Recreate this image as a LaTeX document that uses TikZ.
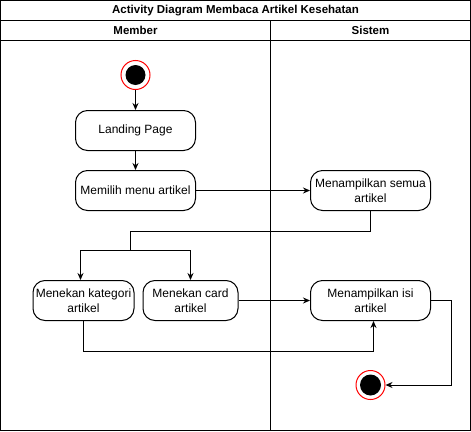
\documentclass[tikz,border=0pt]{standalone}
\usepackage{fontspec}
\setmainfont{Liberation Sans}
\usetikzlibrary{arrows.meta}
\definecolor{ringred}{RGB}{255,0,0}
\tikzset{aktivitas/.style={draw,line width=1pt,rounded corners=12pt,align=center,
  minimum height=40pt,inner sep=1pt,font=\fontsize{12}{14.5}\selectfont},
 alur/.style={line width=1pt,-{Stealth[length=7pt,width=6pt]}},
 garis/.style={line width=1pt},
 ujung/.style={circle,draw=ringred,line width=1pt,minimum size=29pt,inner sep=0pt}}

\begin{document}
\begin{tikzpicture}[x=1pt,y=-1pt]
\useasboundingbox (0,0) rectangle (471,431);
% swimlane frame
\draw[garis] (0.5,0.5) rectangle (470.5,430.5);
\draw[garis] (0.5,20) -- (470.5,20) (0.5,40) -- (470.5,40) (270.5,20) -- (270.5,430.5);
\node[font=\bfseries\fontsize{11.5}{14}\selectfont] (judul) at (235.5,10.5) {Activity Diagram Membaca Artikel Kesehatan};
\node[font=\bfseries\fontsize{11.5}{14}\selectfont] (member) at (135.5,30.5) {Member};
\node[font=\bfseries\fontsize{11.5}{14}\selectfont] (sistem) at (370.5,30.5) {Sistem};
% start and end
\node[ujung] (mulai) at (135.5,75) {};
\fill (mulai.center) circle (10pt);
\node[ujung] (akhir) at (370.5,385) {};
\fill (akhir.center) circle (10.5pt);
% activities
\node[aktivitas,minimum width=120pt] (landing) at (135.5,130.5) {Landing Page};
\node[aktivitas,minimum width=120pt] (pilih) at (135.5,190.5) {Memilih menu artikel};
\node[aktivitas,minimum width=120pt] (semua) at (370.5,190.5) {Menampilkan semua\\artikel};
\node[aktivitas,minimum width=101pt] (kategori) at (83.5,300.5) {Menekan kategori\\artikel};
\node[aktivitas,minimum width=95pt] (card) at (190.5,300.5) {Menekan card\\artikel};
\node[aktivitas,minimum width=120pt] (isi) at (370.5,300.5) {Menampilkan isi\\artikel};
\coordinate (cabang) at (130.5,250);
% flows
\draw[alur] (mulai) -- (landing);
\draw[alur] (landing) -- (pilih);
\draw[alur] (pilih) -- (semua);
\draw[garis] (semua.south) -- ++(0,20) -| (cabang);
\draw[alur] (cabang) -| ([xshift=-3pt]kategori.north);
\draw[alur] (cabang) -| (card.north);
\draw[alur] (card) -- (isi);
\draw[alur] (kategori.south) -- ++(0,30) -| ([xshift=3pt]isi.south);
\draw[alur] (isi.east) -- ++(20,0) |- (akhir.east);
\end{tikzpicture}
\end{document}
